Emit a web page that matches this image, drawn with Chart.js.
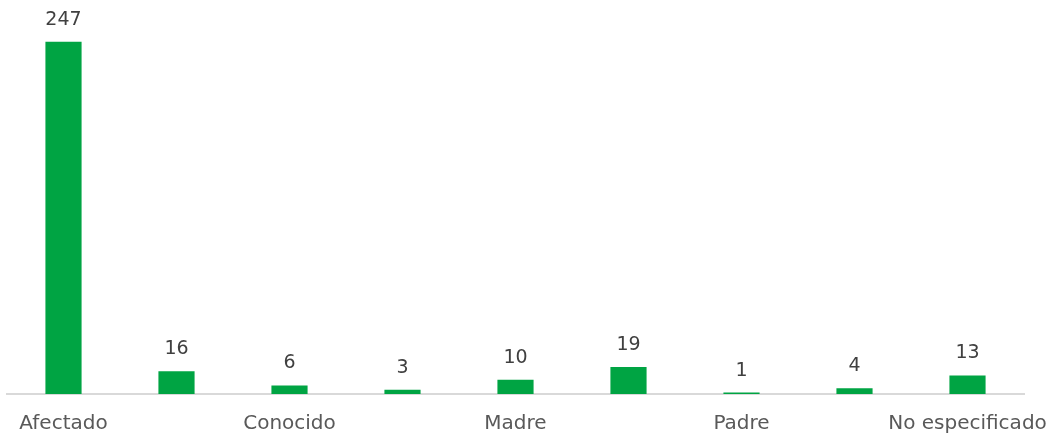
<!DOCTYPE html>
<html>
<head>
<meta charset="utf-8">
<script src="https://cdn.jsdelivr.net/npm/chart.js@4/dist/chart.umd.min.js"></script>
<style>
  html, body { margin: 0; padding: 0; background: #fff; }
  #wrap { width: 1050px; height: 438px; }
</style>
</head>
<body>
<div id="wrap"><canvas id="myChart"></canvas></div>
<script>
// categories (labels between the visible ones are not readable in the reference)
const categories = ['Afectado', '', 'Conocido', '', 'Madre', '', 'Padre', '', 'No especificado'];
const values = [247, 16, 6, 3, 10, 19, 1, 4, 13];

const FONT = '"DejaVu Sans", sans-serif';

// draw the value above each bar
const valueLabels = {
    id: 'valueLabels',
    afterDatasetsDraw(chart) {
        const ctx = chart.ctx;
        const meta = chart.getDatasetMeta(0);
        ctx.save();
        ctx.font = '19px ' + FONT;
        ctx.fillStyle = '#404040';
        ctx.textAlign = 'center';
        ctx.textBaseline = 'alphabetic';
        meta.data.forEach((bar, i) => {
            ctx.fillText(values[i], bar.x, bar.y - 17);
        });
        ctx.restore();
    }
};

const ctx = document.getElementById('myChart').getContext('2d');
const chart = new Chart(ctx, {
    type: 'bar',
    data: {
        labels: categories,
        datasets: [{
            data: values,
            backgroundColor: '#00A443',
            borderWidth: 0,
            categoryPercentage: 1.0,
            barPercentage: 0.32
        }]
    },
    options: {
        responsive: true,
        maintainAspectRatio: false,
        animation: false,
        layout: { padding: { left: 7, right: 26, top: 9, bottom: 0 } },
        plugins: {
            legend: { display: false },
            tooltip: { enabled: false }
        },
        scales: {
            x: {
                grid: { display: false, drawTicks: false },
                border: { display: true, color: '#D9D9D9', width: 2 },
                ticks: {
                    autoSkip: false,
                    maxRotation: 0,
                    padding: 18,
                    color: '#595959',
                    font: { family: FONT, size: 20 }
                },
                afterFit(scale) {
                    scale.height = 44;
                    // let the last label run past the plot edge, as in the original
                    scale.paddingLeft = 0;
                    scale.paddingRight = 0;
                }
            },
            y: {
                display: false,
                min: 0,
                max: 270
            }
        }
    },
    plugins: [valueLabels]
});
</script>
</body>
</html>
